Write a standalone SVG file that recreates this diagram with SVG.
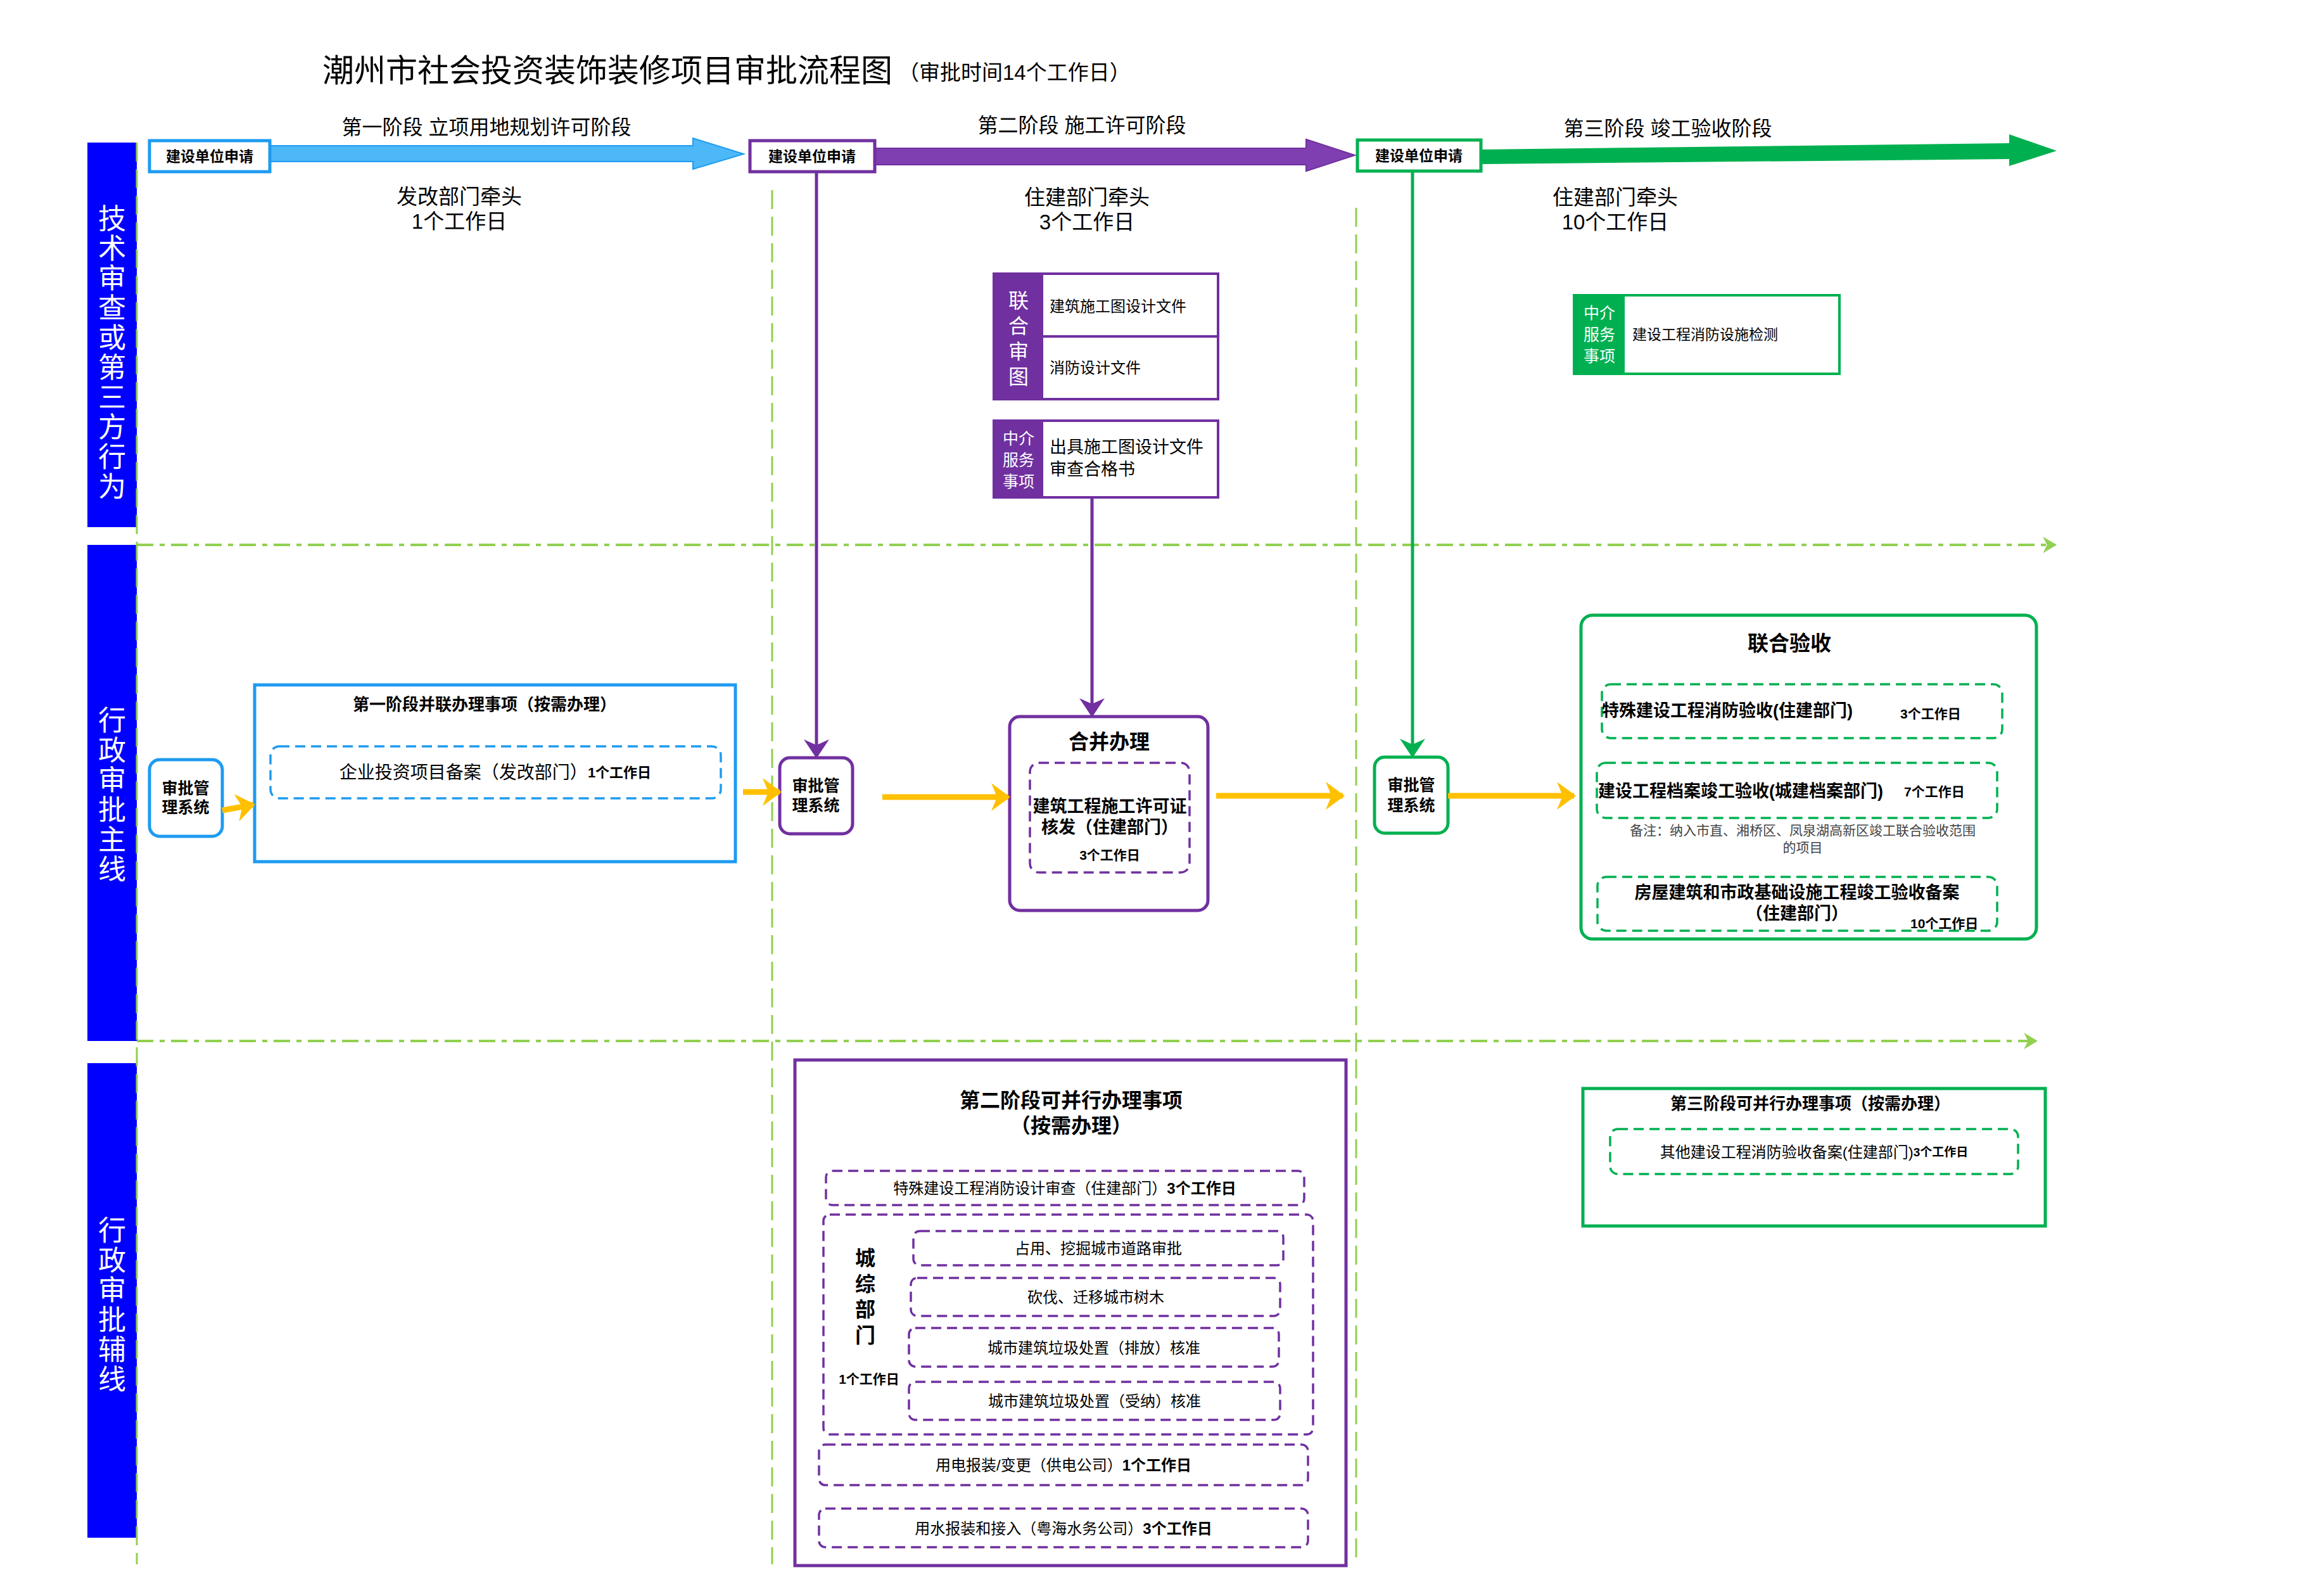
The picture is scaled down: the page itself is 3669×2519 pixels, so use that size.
<svg xmlns="http://www.w3.org/2000/svg" width="3669" height="2519" viewBox="0 0 3669 2519">
<defs>
<style>
text{font-family:"Liberation Sans","Noto Sans CJK SC",sans-serif;fill:#000}
.b{font-weight:bold}
.lane{fill:#0000ff}
.lt{fill:#fff;font-size:44px;text-anchor:middle;dominant-baseline:central}
.lt2{fill:#fff;font-size:32px;text-anchor:middle;dominant-baseline:central}
.c{text-anchor:middle;dominant-baseline:central}
.m{dominant-baseline:central}
.pd{fill:none;stroke:#7030a0;stroke-width:3.5;stroke-dasharray:16 9}
.gd{fill:none;stroke:#00b050;stroke-width:3.5;stroke-dasharray:16 9}
.bd{fill:none;stroke:#1e9bf0;stroke-width:3.5;stroke-dasharray:16 9}
.vd{stroke:#92d050;stroke-width:3;stroke-dasharray:30 12;fill:none}
.hd{stroke:#92d050;stroke-width:4;stroke-dasharray:26 10 8 10;fill:none}
.yl{stroke:#ffc000;stroke-width:9;fill:none}
</style>
<marker id="mg" viewBox="0 0 10 10" refX="9" refY="5" markerWidth="30" markerHeight="40" orient="auto" markerUnits="userSpaceOnUse" preserveAspectRatio="none"><path d="M0,0 L10,5 L0,10 L3,5 Z" fill="#00b050"/></marker>
<marker id="mpu" viewBox="0 0 10 10" refX="9" refY="5" markerWidth="30" markerHeight="40" orient="auto" markerUnits="userSpaceOnUse" preserveAspectRatio="none"><path d="M0,0 L10,5 L0,10 L3,5 Z" fill="#7030a0"/></marker>
<marker id="my" viewBox="0 0 10 10" refX="9" refY="5" markerWidth="30" markerHeight="44" orient="auto" markerUnits="userSpaceOnUse" preserveAspectRatio="none"><path d="M0,0 L10,5 L0,10 L3,5 Z" fill="#ffc000"/></marker>
<marker id="mlg" viewBox="0 0 10 10" refX="9" refY="5" markerWidth="22" markerHeight="26" orient="auto" markerUnits="userSpaceOnUse" preserveAspectRatio="none"><path d="M0,0 L10,5 L0,10 L3,5 Z" fill="#92d050"/></marker>
</defs>
<rect width="3669" height="2519" fill="#fff"/>

<g id="title">
<text x="509" y="112" class="m" font-size="50">潮州市社会投资装饰装修项目审批流程图</text>
<text x="1418" y="114" class="m" font-size="33">（审批时间14个工作日）</text>
</g>

<g id="lanes">
<rect class="lane" x="138" y="225" width="78" height="607"/>
<rect class="lane" x="138" y="860" width="78" height="783"/>
<rect class="lane" x="138" y="1678" width="78" height="749"/>
<text class="lt" x="177" y="345">技</text><text class="lt" x="177" y="392">术</text><text class="lt" x="177" y="439">审</text><text class="lt" x="177" y="486">查</text><text class="lt" x="177" y="533">或</text><text class="lt" x="177" y="580">第</text><text class="lt" x="177" y="627">三</text><text class="lt" x="177" y="674">方</text><text class="lt" x="177" y="721">行</text><text class="lt" x="177" y="768">为</text>
<text class="lt" x="177" y="1137">行</text><text class="lt" x="177" y="1184">政</text><text class="lt" x="177" y="1231">审</text><text class="lt" x="177" y="1278">批</text><text class="lt" x="177" y="1325">主</text><text class="lt" x="177" y="1372">线</text>
<text class="lt" x="177" y="1942">行</text><text class="lt" x="177" y="1989">政</text><text class="lt" x="177" y="2036">审</text><text class="lt" x="177" y="2083">批</text><text class="lt" x="177" y="2130">辅</text><text class="lt" x="177" y="2177">线</text>
</g>

<g id="gridlines">
<line class="vd" x1="216" y1="225" x2="216" y2="2469"/>
<line class="vd" x1="1219" y1="300" x2="1219" y2="2469"/>
<line class="vd" x1="2141" y1="328" x2="2141" y2="2469"/>
<line class="hd" x1="216" y1="860" x2="3245" y2="860" marker-end="url(#mlg)"/>
<line class="hd" x1="216" y1="1643" x2="3215" y2="1643" marker-end="url(#mlg)"/>
</g>

<g id="phase-arrows">
<polygon points="426,230 1094,230 1094,218 1174,243 1094,267 1094,255 426,255" fill="#4cb8f8" stroke="#1e9bf0" stroke-width="2"/>
<polygon points="1381,234 2062,234 2062,220 2139,245 2062,270 2062,260 1381,260" fill="#7f3fb0" stroke="#7030a0" stroke-width="2"/>
<polygon points="2338,236 3172,226 3172,212 3247,238 3172,262 3172,251 2338,259" fill="#00b050"/>
<text x="768" y="201" class="c" font-size="32">第一阶段  立项用地规划许可阶段</text>
<text x="1708" y="198" class="c" font-size="32">第二阶段  施工许可阶段</text>
<text x="2633" y="203" class="c" font-size="32">第三阶段  竣工验收阶段</text>
<text x="725" y="310" class="c" font-size="33">发改部门牵头</text>
<text x="725" y="349" class="c" font-size="33">1个工作日</text>
<text x="1716" y="311" class="c" font-size="33">住建部门牵头</text>
<text x="1716" y="350" class="c" font-size="33">3个工作日</text>
<text x="2550" y="311" class="c" font-size="33">住建部门牵头</text>
<text x="2550" y="350" class="c" font-size="33">10个工作日</text>
</g>

<g id="apply1">
<rect x="236" y="222" width="190" height="49" fill="#fff" stroke="#1e9bf0" stroke-width="5"/>
<text x="331" y="247" class="c b" font-size="23">建设单位申请</text>
</g>
<g id="apply2">
<rect x="1184" y="222" width="197" height="49" fill="#fff" stroke="#7030a0" stroke-width="5"/>
<text x="1282" y="247" class="c b" font-size="23">建设单位申请</text>
</g>
<g id="apply3">
<rect x="2143" y="221" width="195" height="49" fill="#fff" stroke="#00b050" stroke-width="5"/>
<text x="2240" y="246" class="c b" font-size="23">建设单位申请</text>
</g>

<g id="joint-review">
<rect x="1569" y="432" width="354" height="198" fill="#fff" stroke="#7030a0" stroke-width="4"/>
<rect x="1569" y="432" width="78" height="198" fill="#7030a0"/>
<line x1="1647" y1="531" x2="1923" y2="531" stroke="#7030a0" stroke-width="4"/>
<text class="lt2" x="1608" y="475">联</text><text class="lt2" x="1608" y="515">合</text><text class="lt2" x="1608" y="555">审</text><text class="lt2" x="1608" y="595">图</text>
<text x="1657" y="483" class="m" font-size="24">建筑施工图设计文件</text>
<text x="1657" y="580" class="m" font-size="24">消防设计文件</text>
</g>
<g id="agency2">
<rect x="1569" y="664" width="354" height="121" fill="#fff" stroke="#7030a0" stroke-width="4"/>
<rect x="1569" y="664" width="78" height="121" fill="#7030a0"/>
<text x="1608" y="692" class="c" font-size="25" style="fill:#fff">中介</text>
<text x="1608" y="726" class="c" font-size="25" style="fill:#fff">服务</text>
<text x="1608" y="760" class="c" font-size="25" style="fill:#fff">事项</text>
<text x="1657" y="706" class="m" font-size="27">出具施工图设计文件</text>
<text x="1657" y="741" class="m" font-size="27">审查合格书</text>
</g>
<g id="agency3">
<rect x="2485" y="466" width="419" height="124" fill="#fff" stroke="#00b050" stroke-width="4"/>
<rect x="2485" y="466" width="80" height="124" fill="#00b050"/>
<text x="2525" y="494" class="c" font-size="25" style="fill:#fff">中介</text>
<text x="2525" y="528" class="c" font-size="25" style="fill:#fff">服务</text>
<text x="2525" y="562" class="c" font-size="25" style="fill:#fff">事项</text>
<text x="2577" y="528" class="m" font-size="23">建设工程消防设施检测</text>
</g>

<g id="sys1">
<rect x="236" y="1199" width="115" height="121" rx="16" fill="#fff" stroke="#1e9bf0" stroke-width="5"/>
<text x="293" y="1244" class="c b" font-size="25">审批管</text>
<text x="293" y="1274" class="c b" font-size="25">理系统</text>
</g>
<g id="stage1-parallel">
<rect x="402" y="1081" width="759" height="279" fill="#fff" stroke="#1e9bf0" stroke-width="5"/>
<text x="765" y="1112" class="c b" font-size="26">第一阶段并联办理事项（按需办理）</text>
<rect class="bd" x="427" y="1178" width="711" height="82" rx="14"/>
<text x="782" y="1219" class="c" font-size="28">企业投资项目备案（发改部门）<tspan class="b" font-size="22">1个工作日</tspan></text>
</g>
<g id="sys2">
<rect x="1231" y="1196" width="115" height="120" rx="16" fill="#fff" stroke="#7030a0" stroke-width="5"/>
<text x="1288" y="1240" class="c b" font-size="25">审批管</text>
<text x="1288" y="1271" class="c b" font-size="25">理系统</text>
</g>
<g id="merge">
<rect x="1594" y="1131" width="313" height="306" rx="16" fill="#fff" stroke="#7030a0" stroke-width="5"/>
<text x="1751" y="1171" class="c b" font-size="32">合并办理</text>
<rect class="pd" x="1626" y="1204" width="252" height="173" rx="14"/>
<text x="1752" y="1273" class="c b" font-size="27">建筑工程施工许可证</text>
<text x="1752" y="1306" class="c b" font-size="27">核发（住建部门）</text>
<text x="1752" y="1349" class="c b" font-size="21">3个工作日</text>
</g>
<g id="sys3">
<rect x="2170" y="1195" width="116" height="120" rx="16" fill="#fff" stroke="#00b050" stroke-width="5"/>
<text x="2228" y="1239" class="c b" font-size="25">审批管</text>
<text x="2228" y="1271" class="c b" font-size="25">理系统</text>
</g>
<g id="joint-accept">
<rect x="2496" y="971" width="719" height="511" rx="18" fill="#fff" stroke="#00b050" stroke-width="5"/>
<text x="2825" y="1015" class="c b" font-size="33">联合验收</text>
<rect class="gd" x="2529" y="1080" width="632" height="85" rx="14"/>
<text x="2529" y="1122" class="m b" font-size="27">特殊建设工程消防验收(住建部门)</text>
<text x="3000" y="1126" class="m b" font-size="21">3个工作日</text>
<rect class="gd" x="2521" y="1204" width="632" height="87" rx="14"/>
<text x="2523" y="1249" class="m b" font-size="27">建设工程档案竣工验收(城建档案部门)</text>
<text x="3006" y="1249" class="m b" font-size="21">7个工作日</text>
<text x="2846" y="1310" class="c" font-size="21" style="fill:#444">备注：纳入市直、湘桥区、凤泉湖高新区竣工联合验收范围</text>
<text x="2846" y="1337" class="c" font-size="21" style="fill:#444">的项目</text>
<rect class="gd" x="2522" y="1384" width="631" height="85" rx="14"/>
<text x="2837" y="1409" class="c b" font-size="27">房屋建筑和市政基础设施工程竣工验收备案</text>
<text x="2837" y="1442" class="c b" font-size="27">（住建部门）</text>
<text x="3016" y="1457" class="m b" font-size="21">10个工作日</text>
</g>

<g id="stage2-parallel">
<rect x="1255" y="1673" width="870" height="798" fill="#fff" stroke="#7030a0" stroke-width="5"/>
<text x="1691" y="1737" class="c b" font-size="32">第二阶段可并行办理事项</text>
<text x="1691" y="1777" class="c b" font-size="32">（按需办理）</text>
<rect class="pd" x="1304" y="1848" width="755" height="54" rx="10"/>
<text x="1681" y="1875" class="c" font-size="24">特殊建设工程消防设计审查（住建部门）<tspan class="b">3个工作日</tspan></text>
<rect class="pd" x="1300" y="1917" width="773" height="347" rx="10"/>
<text x="1366" y="1986" class="c b" font-size="32">城</text>
<text x="1366" y="2027" class="c b" font-size="32">综</text>
<text x="1366" y="2067" class="c b" font-size="32">部</text>
<text x="1366" y="2108" class="c b" font-size="32">门</text>
<text x="1372" y="2176" class="c b" font-size="21">1个工作日</text>
<rect class="pd" x="1442" y="1943" width="584" height="54" rx="10"/>
<text x="1734" y="1970" class="c" font-size="24">占用、挖掘城市道路审批</text>
<rect class="pd" x="1438" y="2017" width="583" height="60" rx="10"/>
<text x="1730" y="2047" class="c" font-size="24">砍伐、迁移城市树木</text>
<rect class="pd" x="1435" y="2096" width="584" height="61" rx="10"/>
<text x="1727" y="2127" class="c" font-size="24">城市建筑垃圾处置（排放）核准</text>
<rect class="pd" x="1435" y="2181" width="586" height="60" rx="10"/>
<text x="1728" y="2211" class="c" font-size="24">城市建筑垃圾处置（受纳）核准</text>
<rect class="pd" x="1293" y="2280" width="772" height="64" rx="10"/>
<text x="1679" y="2312" class="c" font-size="24">用电报装/变更（供电公司）<tspan class="b">1个工作日</tspan></text>
<rect class="pd" x="1293" y="2381" width="772" height="61" rx="10"/>
<text x="1679" y="2412" class="c" font-size="24">用水报装和接入（粤海水务公司）<tspan class="b">3个工作日</tspan></text>
</g>

<g id="stage3-parallel">
<rect x="2499" y="1718" width="730" height="217" fill="#fff" stroke="#00b050" stroke-width="5"/>
<text x="2858" y="1742" class="c b" font-size="26">第三阶段可并行办理事项（按需办理）</text>
<rect class="gd" x="2542" y="1782" width="644" height="71" rx="12"/>
<text x="2864" y="1818" class="c" font-size="24">其他建设工程消防验收备案(住建部门)<tspan class="b" font-size="19">3个工作日</tspan></text>
</g>

<g id="connectors">
<line x1="1289" y1="272" x2="1289" y2="1194" stroke="#7030a0" stroke-width="5" marker-end="url(#mpu)"/>
<line x1="1724" y1="785" x2="1724" y2="1129" stroke="#7030a0" stroke-width="5" marker-end="url(#mpu)"/>
<line x1="2230" y1="270" x2="2230" y2="1193" stroke="#00b050" stroke-width="5" marker-end="url(#mg)"/>
<line class="yl" x1="351" y1="1279" x2="400" y2="1270" marker-end="url(#my)"/>
<line class="yl" x1="1173" y1="1250" x2="1231" y2="1250" marker-end="url(#my)"/>
<line class="yl" x1="1393" y1="1258" x2="1592" y2="1258" marker-end="url(#my)"/>
<line class="yl" x1="1920" y1="1256" x2="2120" y2="1256" marker-end="url(#my)"/>
<line class="yl" x1="2286" y1="1256" x2="2485" y2="1256" marker-end="url(#my)"/>
</g>
</svg>
